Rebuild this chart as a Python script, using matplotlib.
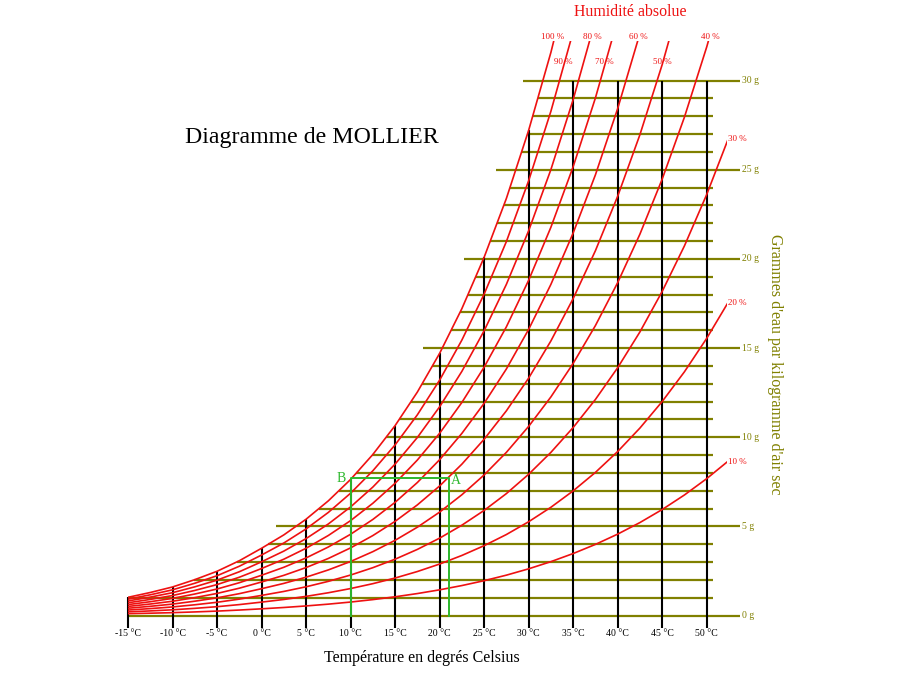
import numpy as np
import matplotlib.pyplot as plt
from matplotlib.patches import Rectangle

plt.rcParams['font.family'] = ['Liberation Serif', 'DejaVu Serif']

# Courbe de saturation (100 %) : température (°C) -> g d'eau / kg d'air sec
temperatures = [-15, -12.5, -10, -7.5, -5, -2.5, 0, 2.5, 5, 7.5, 10, 12.5, 15, 17.5,
                20, 22.5, 25, 27.5, 30, 32.5, 35, 37.5, 40, 42.5, 45, 47.5, 50, 52.5]
eau_saturation = [1.02, 1.29, 1.60, 2.01, 2.48, 3.07, 3.77, 4.52, 5.40, 6.43, 7.63, 9.03,
                  10.65, 12.53, 14.70, 17.21, 20.09, 23.39, 27.21, 31.58, 36.59, 42.31,
                  48.87, 56.38, 65.02, 74.93, 86.35, 99.47]

humidites = [100, 90, 80, 70, 60, 50, 40, 30, 20, 10]
graduations_t = [-15, -10, -5, 0, 5, 10, 15, 20, 25, 30, 35, 40, 45, 50]
graduations_g = list(range(0, 31))
etiquettes_g = [0, 5, 10, 15, 20, 25, 30]

point_b = (10, 7.7)
point_a = (21, 7.7)

P_ATM = 101.325
ROUGE = '#ee1111'
OLIVE = '#808000'
VERT = '#2db82d'

# repère : 1 px = 1/8.903 °C en x, 1/17.83 g en y
X0, SX = 128.0, 8.903
Y0, SY = 615.5, 17.83


def px(x):
    return -15 + (x - X0) / SX


def py(y):
    return (Y0 - y) / SY


fig = plt.figure(figsize=(9, 6.8), dpi=100)
ax = fig.add_axes([0, 0, 1, 1])
ax.set_xlim(px(0), px(900))
ax.set_ylim(py(680), py(0))
ax.axis('off')

T = np.array(temperatures)
ws = np.array(eau_saturation)

# lignes horizontales (g/kg)
for g in graduations_g:
    debut = np.interp(g, ws, T)
    majeure = g % 5 == 0
    if majeure and g != 10:
        debut -= 2.2
    debut = max(debut, -15.05)
    fin = px(740) if majeure else px(713)
    ax.plot([debut, fin], [g, g], color=OLIVE, lw=1.6, solid_capstyle='butt', zorder=2)

for g in etiquettes_g:
    ax.text(px(742), g, f'{g} g', color=OLIVE, fontsize=7, ha='left', va='center')

# lignes verticales (°C)
for t in graduations_t:
    haut = min(np.interp(t, T, ws), 30)
    ax.plot([t, t], [py(628), haut], color='black', lw=1.5, solid_capstyle='butt', zorder=3)
    ax.text(t, py(633), f'{t} °C', fontsize=7, ha='center', va='center')

# courbes d'humidité relative
pv_sat = P_ATM * ws / (622 + ws)
cadre = Rectangle((-15, -1), px(727) + 15, 32.2 + 1, transform=ax.transData)
for hr in humidites:
    pv = hr / 100 * pv_sat
    w = 622 * pv / (P_ATM - pv)
    ligne, = ax.plot(T, w, color=ROUGE, lw=1.2, zorder=4)
    ligne.set_clip_path(cadre)

pos_hr = {100: (553, 37), 90: (563, 62), 80: (592, 37), 70: (604, 62),
          60: (638, 37), 50: (662, 62), 40: (710, 37)}
for hr, (x, y) in pos_hr.items():
    ax.text(px(x), py(y), f'{hr} %', color=ROUGE, fontsize=6.5, ha='center', va='center', zorder=5)
for hr, y in [(30, 139), (20, 303), (10, 462)]:
    ax.text(px(728), py(y), f'{hr} %', color=ROUGE, fontsize=6.5, ha='left', va='center', zorder=5)

# exemple A -> B
ax.plot([point_b[0], point_b[0], point_a[0], point_a[0]],
        [0, point_b[1], point_a[1], 0], color=VERT, lw=1.4, zorder=5)
ax.text(px(346), point_b[1], 'B', color=VERT, fontsize=10, ha='right', va='center')
ax.text(px(451), point_a[1] - 0.15, 'A', color=VERT, fontsize=10, ha='left', va='center')

# textes
ax.text(px(312), py(138), 'Diagramme de MOLLIER', fontsize=17.2, ha='center', va='center')
ax.text(px(630), py(12), 'Humidité absolue', color=ROUGE, fontsize=11.4, ha='center', va='center')
ax.text(px(422), py(658), 'Température en degrés Celsius', fontsize=11.5, ha='center', va='center')
ax.text(px(775), py(364), "Grammes d'eau par kilogramme d'air sec", color=OLIVE,
        fontsize=11.5, rotation=-90, ha='center', va='center')

fig.savefig('out.png', dpi=100, facecolor='white')
